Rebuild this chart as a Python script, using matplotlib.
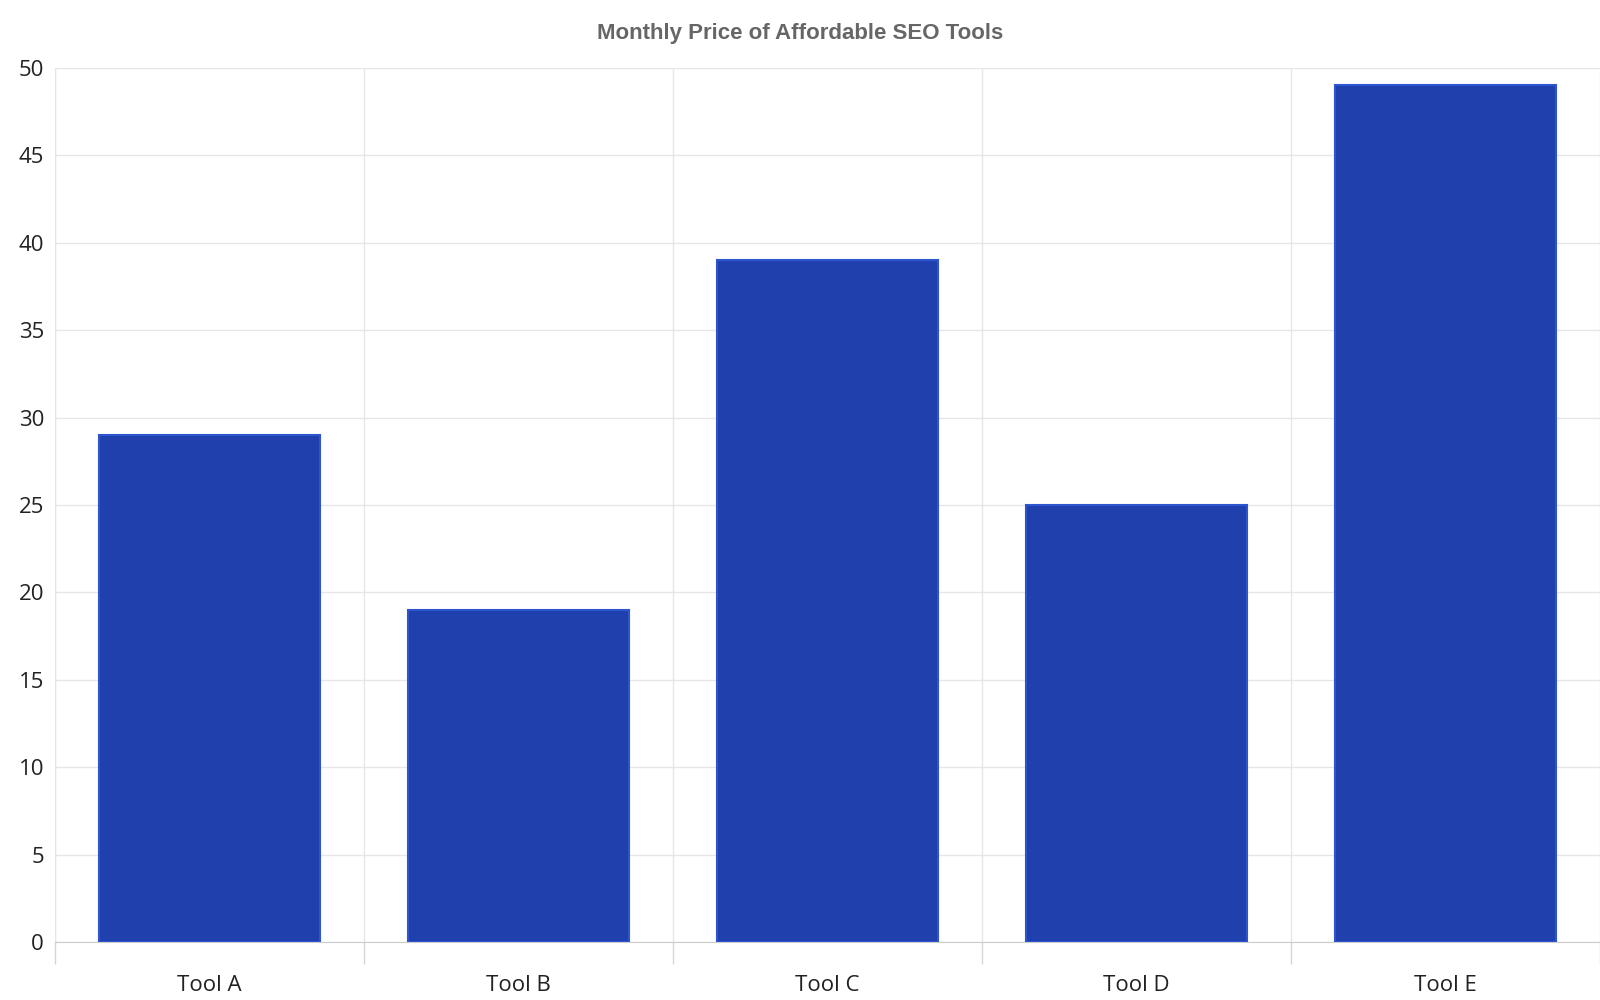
import matplotlib
matplotlib.use('Agg')
import matplotlib.pyplot as plt
import numpy as np

tools = ['Tool A', 'Tool B', 'Tool C', 'Tool D', 'Tool E']
prices = [29, 19, 39, 25, 49]
y_ticks = [0, 5, 10, 15, 20, 25, 30, 35, 40, 45, 50]

plt.rcParams['font.family'] = ['Open Sans', 'DejaVu Sans']

fig = plt.figure(figsize=(16, 10), dpi=100)
ax = fig.add_axes([0.0345, 0.058, 0.9655, 0.874])

x = np.arange(len(tools))
ax.bar(x, prices, width=0.715, color='#1f40ad', edgecolor='#2d55d0', linewidth=1.5, zorder=3)

ax.set_xlim(-0.5, len(tools) - 0.5)
ax.set_ylim(0, 50)
ax.set_yticks(y_ticks)
ax.set_xticks(x)
ax.set_xticklabels(tools)
ax.set_xticks(np.arange(-0.5, len(tools)), minor=True)

ax.tick_params(axis='x', which='major', length=0, pad=24, labelsize=16, labelcolor='#222222')
ax.tick_params(axis='x', which='minor', length=16, color='#d6d6d6', width=1)
ax.tick_params(axis='y', length=0, pad=8, labelsize=16, labelcolor='#222222')

ax.grid(True, axis='y', color='#e6e6e6', linewidth=1, zorder=0)
ax.grid(True, axis='x', which='minor', color='#e6e6e6', linewidth=1, zorder=0)

for side in ['top', 'right', 'left']:
    ax.spines[side].set_visible(False)
ax.spines['bottom'].set_color('#cccccc')
ax.axvline(-0.5, color='#e6e6e6', linewidth=1, zorder=0)

fig.text(0.5, 0.966, 'Monthly Price of Affordable SEO Tools', ha='center', va='center',
         fontsize=16, fontweight='bold', color='#666666', family=['Liberation Sans', 'DejaVu Sans'])

fig.savefig('out.png', dpi=100)
